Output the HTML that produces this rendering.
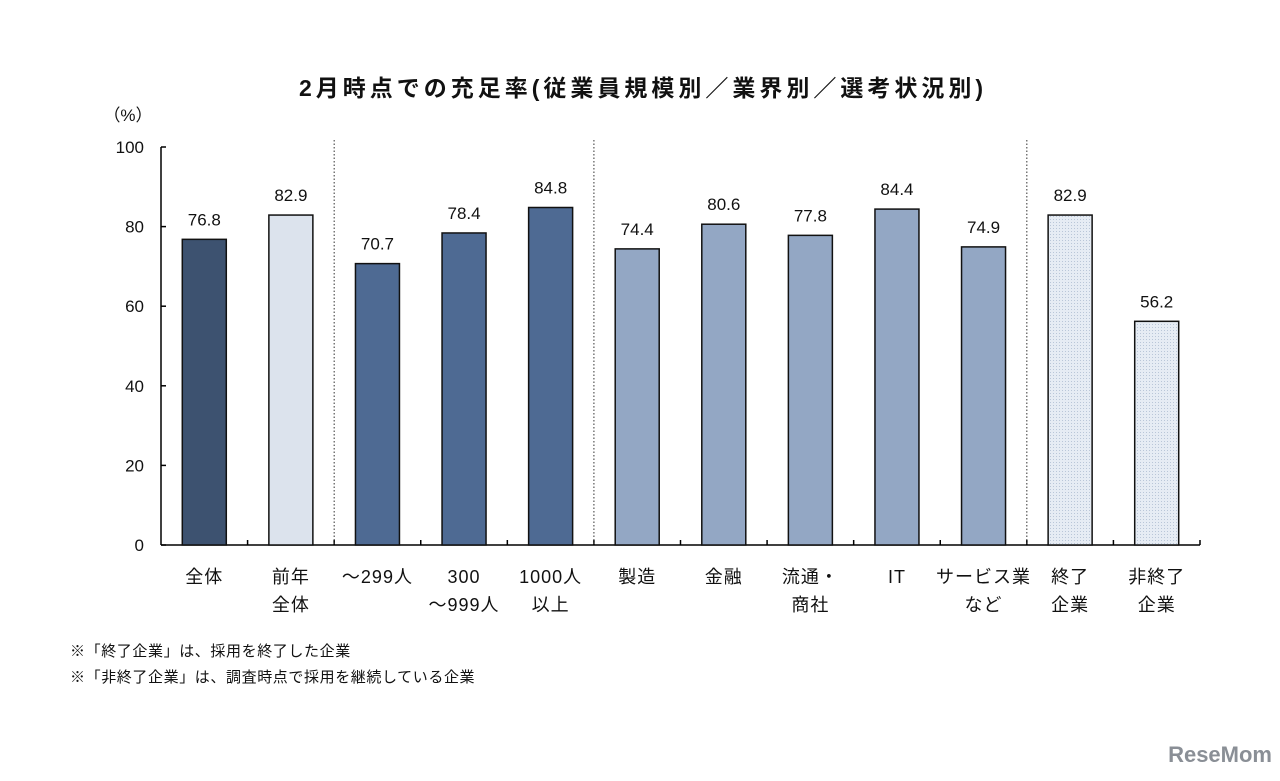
<!DOCTYPE html>
<html><head><meta charset="utf-8"><style>
body{margin:0;background:#fff;}
svg text{font-family:"Liberation Sans","Noto Sans CJK JP",sans-serif;fill:#111;}
</style></head><body>
<svg width="1280" height="776" xmlns="http://www.w3.org/2000/svg">
<defs>
<pattern id="dots" width="3" height="3" patternUnits="userSpaceOnUse">
<rect width="3" height="3" fill="#e6ecf4"/><rect width="1" height="1" fill="#b9c6d8"/>
</pattern>
</defs>
<text x="643" y="96" text-anchor="middle" font-size="23" font-weight="bold" letter-spacing="4">2月時点での充足率(従業員規模別／業界別／選考状況別)</text>
<text x="128" y="121" text-anchor="middle" font-size="17">（%）</text>
<g id="axes"></g>
<g id="bars"></g>
<text x="70" y="656" font-size="15" letter-spacing="0.6">※「終了企業」は、採用を終了した企業</text>
<text x="70" y="682" font-size="15" letter-spacing="0.6">※「非終了企業」は、調査時点で採用を継続している企業</text>
<text x="1272" y="762" text-anchor="end" font-size="22" font-weight="bold" style="fill:#8a8f96">ReseMom</text>
</svg>
<script>
const categories=[["全体"],["前年","全体"],["～299人"],["300","～999人"],["1000人","以上"],["製造"],["金融"],["流通・","商社"],["IT"],["サービス業","など"],["終了","企業"],["非終了","企業"]];
const values=[76.8,82.9,70.7,78.4,84.8,74.4,80.6,77.8,84.4,74.9,82.9,56.2];
const groups=[0,1,2,2,2,3,3,3,3,3,4,4];
const yTicks=[0,20,40,60,80,100];
const dividersAfter=[1,4,9];
const fills=["#3d5270","#dce3ed","#4e6a93","#93a7c4","url(#dots)"];
const NS="http://www.w3.org/2000/svg";
const x0=161,x1=1200,y0=545,y1=147;
const step=(x1-x0)/categories.length;
const ys=v=>y0-(v/100)*(y0-y1);
const xc=i=>x0+step*(i+0.5);
function mk(t,a,p){const e=document.createElementNS(NS,t);for(const k in a)e.setAttribute(k,a[k]);p.appendChild(e);return e;}
const ax=document.getElementById('axes'),bg=document.getElementById('bars');
let l=mk('line',{x1:x0,y1:y1,x2:x0,y2:y0,stroke:'#000','stroke-width':1.5},ax);


l=mk('line',{x1:x0,y1:y0,x2:x1,y2:y0,stroke:'#000','stroke-width':1.5},ax);


yTicks.forEach(t=>{
 mk('line',{x1:x0+5,y1:ys(t),x2:x0,y2:ys(t),stroke:'#000','stroke-width':1.5},ax);
 const tx=mk('text',{x:x0-17,y:ys(t)+6,'text-anchor':'end','font-size':17},ax);
 tx.textContent=t;
 
 
});
categories.forEach((c,i)=>{mk('line',{x1:x0+step*(i+1),y1:y0,x2:x0+step*(i+1),y2:y0-5,stroke:'#000','stroke-width':1.5},ax);});
dividersAfter.forEach(d=>{
 const dl=mk('line',{x1:x0+step*(d+1),y1:140,x2:x0+step*(d+1),y2:y0,stroke:'#333','stroke-width':1,'stroke-dasharray':'1.5,2'},ax);
 
 
});
values.forEach((v,i)=>{
 const bw=44;
 const r=mk('rect',{x:xc(i)-bw/2,y:ys(v),width:bw,height:y0-ys(v),fill:fills[groups[i]],stroke:'#111','stroke-width':1.5},bg);
 
 
 const lb=mk('text',{x:xc(i),y:ys(v)-14,'text-anchor':'middle','font-size':17},bg);
 lb.textContent=v.toFixed(1);
 
 
 categories[i].forEach((s,j)=>{
  const ct=mk('text',{x:xc(i),y:583+j*28,'text-anchor':'middle','font-size':18,'letter-spacing':1},ax);
  ct.textContent=s;
  
  
 });
});
</script>
</body></html>
